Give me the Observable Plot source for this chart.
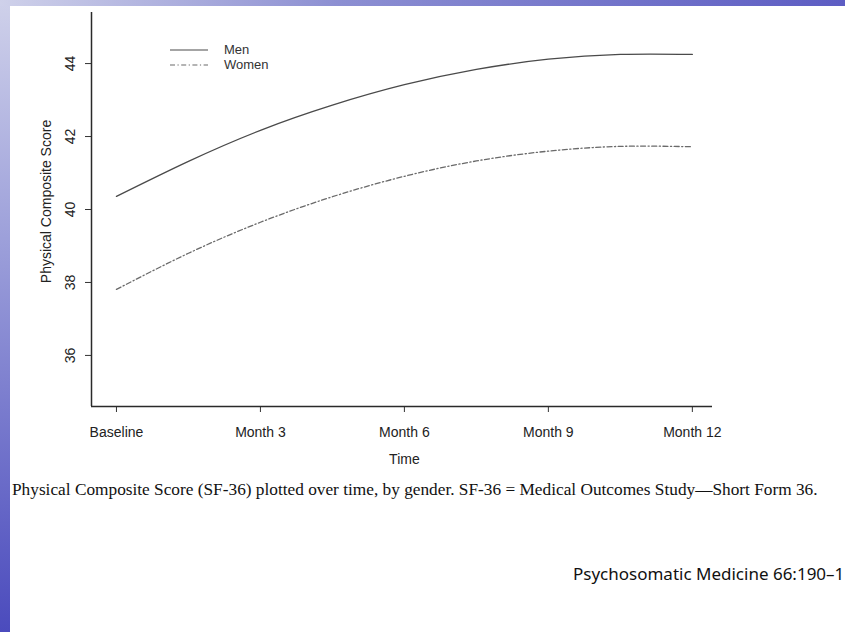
<!DOCTYPE html>
<html>
<head>
<meta charset="utf-8">
<script src="https://cdn.jsdelivr.net/npm/d3@7"></script>
<script src="https://cdn.jsdelivr.net/npm/@observablehq/plot@0.6"></script>
<style>
  html, body { margin: 0; padding: 0; }
  body { width: 845px; height: 632px; overflow: hidden; position: relative; background: #fff; }
  #bgLeft { position: absolute; left: 0; top: 0; width: 10px; height: 632px;
    background: linear-gradient(to bottom, #cfd1ea 0%, #9a9dd9 40%, #4b4bbd 100%); }
  #bgTop { position: absolute; left: 0; top: 0; width: 845px; height: 6px;
    background: linear-gradient(to right, #cfd1ea 0%, #8c8fd2 40%, #5d5dc3 100%); }
  #chart { position: absolute; left: 0; top: 0; }
  #legend { position: absolute; left: 170px; top: 42px; font-family: "Liberation Sans", Arial, sans-serif;
    font-size: 13px; color: #333; line-height: 15px; }
  #legend .row { display: flex; align-items: center; height: 15px; }
  #legend svg { margin-right: 16px; }
  #caption { position: absolute; left: 12px; top: 480px; font-family: "Liberation Serif", "Times New Roman", serif;
    font-size: 17.3px; color: #111; white-space: nowrap; }
  #source { position: absolute; left: 573px; top: 562px; font-family: "Noto Sans", "Open Sans", sans-serif;
    font-size: 17px; color: #111; white-space: nowrap; }
</style>
</head>
<body>
<div id="bgLeft"></div>
<div id="bgTop"></div>
<div id="chart"></div>
<div id="legend"></div>
<div id="caption"></div>
<div id="source"></div>
<script>
// Fitted physical composite score by gender, months since baseline
const months = [0, 1.5, 3, 4.5, 6, 7.5, 9, 10.5, 12];
const men = [40.36, 41.32, 42.17, 42.86, 43.42, 43.84, 44.12, 44.25, 44.25];
const women = [37.81, 38.80, 39.65, 40.35, 40.91, 41.33, 41.60, 41.73, 41.72];

const xTickValues = [0, 3, 6, 9, 12];
const xTickLabels = ["Baseline", "Month 3", "Month 6", "Month 9", "Month 12"];
const yTickValues = [36, 38, 40, 42, 44];
const xDomain = [-0.52, 12.42];
const yDomain = [34.6, 45.4];

const seriesNames = ["Men", "Women"];
const seriesDash = { Men: null, Women: "5,2.5,1.2,2.5" };
const seriesColor = { Men: "#4a4a4a", Women: "#6a6a6a" };

const captionText = "Physical Composite Score (SF-36) plotted over time, by gender. SF-36 = Medical Outcomes Study\u2014Short Form 36.";
const sourceText = "Psychosomatic Medicine 66:190\u20131";

const rows = [
  ...months.map((m, i) => ({ month: m, score: men[i], group: "Men" })),
  ...months.map((m, i) => ({ month: m, score: women[i], group: "Women" }))
];

const plot = Plot.plot({
  width: 845,
  height: 470,
  marginLeft: 91,
  marginRight: 133,
  marginTop: 12,
  marginBottom: 64,
  x: { domain: xDomain },
  y: { domain: yDomain },
  style: { fontFamily: "Liberation Sans, Arial, sans-serif", background: "transparent", color: "#222" },
  marks: [
    Plot.axisY(yTickValues, { tickSize: 6, tickRotate: -90, tickPadding: 11, fontSize: 14, label: null, stroke: "#333" }),
    Plot.axisX(xTickValues, {
      tickSize: 6, tickPadding: 15, fontSize: 14, label: null, stroke: "#333",
      tickFormat: d => xTickLabels[xTickValues.indexOf(d)]
    }),
    Plot.ruleX([xDomain[0]], { stroke: "#2a2a2a", strokeWidth: 1.5 }),
    Plot.ruleY([yDomain[0]], { stroke: "#2a2a2a", strokeWidth: 1.5 }),
    Plot.text(["Physical Composite Score"], {
      frameAnchor: "left", rotate: -90, textAnchor: "middle", dx: -45, dy: -8, fontSize: 14, fill: "#222"
    }),
    Plot.text(["Time"], { x: 6, frameAnchor: "bottom", dy: 57, fontSize: 14, fill: "#222" }),
    ...seriesNames.map(name => Plot.line(rows.filter(r => r.group === name), {
      x: "month", y: "score", curve: "natural",
      stroke: seriesColor[name], strokeWidth: 1.3, strokeDasharray: seriesDash[name]
    }))
  ]
});
document.getElementById("chart").appendChild(plot);

// Legend
const legend = document.getElementById("legend");
seriesNames.forEach(name => {
  const row = document.createElement("div");
  row.className = "row";
  const dash = seriesDash[name] ? `stroke-dasharray="${seriesDash[name]}"` : "";
  row.innerHTML = `<svg width="38" height="6"><line x1="0" y1="3" x2="38" y2="3" stroke="${seriesColor[name]}" stroke-width="1.2" ${dash}/></svg><span>${name}</span>`;
  legend.appendChild(row);
});

document.getElementById("caption").textContent = captionText;
document.getElementById("source").textContent = sourceText;
</script>
</body>
</html>
